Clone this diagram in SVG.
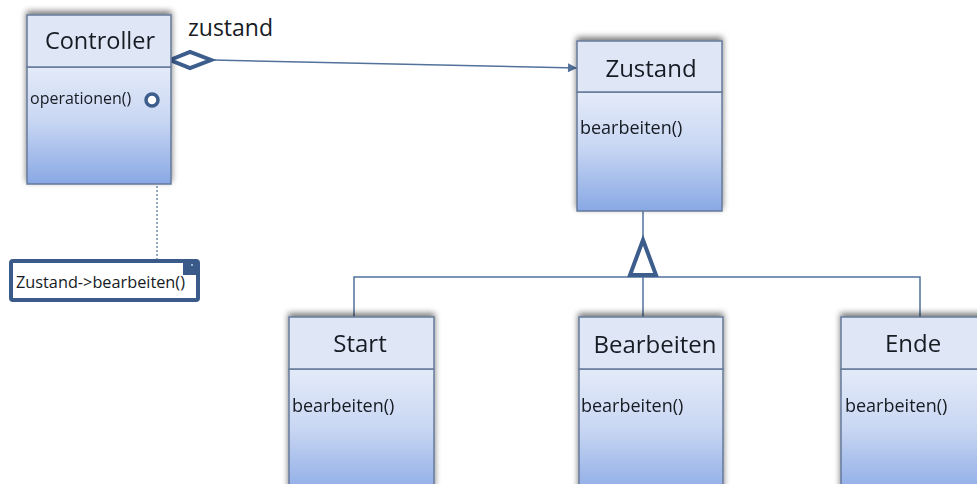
<svg xmlns="http://www.w3.org/2000/svg" width="977" height="484" viewBox="0 0 977 484">
  <style>
    .hdr { fill: #dfe7f7; stroke: #65799a; stroke-width: 1.5; }
    .body { fill: url(#bodyGrad); stroke: #65799a; stroke-width: 1.5; }
    .title { font-family: "Open Sans", "Liberation Sans", sans-serif; font-size: 24px; fill: #161b24; text-anchor: middle; }
    .op { font-family: "Open Sans", "Liberation Sans", sans-serif; font-size: 18px; fill: #161b24; }
    .conn { fill: none; stroke: #52719b; stroke-width: 1.5; }
    .thick { fill: #ffffff; stroke: #3d5d8c; stroke-width: 4; stroke-linejoin: miter; }
  </style>
  <defs>
    <linearGradient id="bodyGrad" x1="0" y1="0" x2="0" y2="1">
      <stop offset="0" stop-color="#e4ebf9"/>
      <stop offset="0.45" stop-color="#c9d7f3"/>
      <stop offset="1" stop-color="#88a8e4"/>
    </linearGradient>
    <filter id="shadow" x="-10%" y="-10%" width="120%" height="120%">
      <feGaussianBlur in="SourceAlpha" stdDeviation="3"/>
      <feOffset dx="0" dy="-3" result="b"/>
      <feComponentTransfer><feFuncA type="linear" slope="0.55"/></feComponentTransfer>
      <feMerge><feMergeNode/><feMergeNode in="SourceGraphic"/></feMerge>
    </filter>
    <marker id="arrow" viewBox="0 0 10 10" refX="10" refY="5" markerWidth="10" markerHeight="9" markerUnits="userSpaceOnUse" orient="auto">
      <path d="M0,0 L10,5 L0,10 Z" fill="#52719b"/>
    </marker>
  </defs>

  <rect width="977" height="484" fill="#ffffff"/>

  <!-- connectors -->
  <g id="connectors">
    <!-- association Controller -> Zustand -->
    <line class="conn" x1="213" y1="60" x2="577" y2="68" marker-end="url(#arrow)"/>
    <text x="188" y="36" class="title" style="text-anchor:start;font-size:23px">zustand</text>
    <!-- dotted link to the note -->
    <line x1="157" y1="106" x2="157" y2="261" stroke="#52719b" stroke-width="1.2" stroke-dasharray="2,2"/>
    <!-- generalization tree -->
    <line class="conn" x1="643" y1="211" x2="643" y2="240"/>
    <polyline class="conn" points="354,317 354,277 920,277 920,317"/>
    <line class="conn" x1="643" y1="277" x2="643" y2="317"/>
    <polygon class="thick" points="643,240 656,275 630,275"/>
    <!-- aggregation diamond -->
    <polygon class="thick" points="170,60 190,52 211,60 190,68"/>
  </g>

  <!-- Controller class -->
  <g id="controller" filter="url(#shadow)">
    <rect class="body" x="27" y="67" width="144" height="117"/>
    <rect class="hdr" x="27" y="15" width="144" height="52"/>
    <text class="title" x="100" y="49" style="font-size:23.5px">Controller</text>
    <text class="op" x="30" y="104" style="font-size:16px">operationen()</text>
  </g>
  <circle cx="152" cy="100" r="6" fill="#ffffff" stroke="#3d5d8c" stroke-width="3.5"/>

  <!-- note -->
  <g id="note">
    <rect x="11" y="261" width="187" height="39" rx="2" fill="#ffffff" stroke="#3a5a8a" stroke-width="4"/>
    <rect x="183" y="262" width="13" height="13" fill="#3a5a8a"/>
    <circle cx="192" cy="265" r="1" fill="#c8d4ea"/>
    <text class="op" x="16" y="288" style="font-size:16.3px">Zustand-&gt;bearbeiten()</text>
  </g>

  <!-- Zustand class -->
  <g id="zustand" filter="url(#shadow)">
    <rect class="body" x="577" y="92" width="145" height="119"/>
    <rect class="hdr" x="577" y="41" width="145" height="51"/>
    <text class="title" x="651" y="77">Zustand</text>
    <text class="op" x="580" y="134">bearbeiten()</text>
  </g>

  <!-- Start class -->
  <g id="start" filter="url(#shadow)">
    <rect class="body" x="289" y="369" width="145" height="130"/>
    <rect class="hdr" x="289" y="317" width="145" height="52"/>
    <text class="title" x="360" y="352">Start</text>
    <text class="op" x="292" y="412">bearbeiten()</text>
  </g>

  <!-- Bearbeiten class -->
  <g id="bearbeiten" filter="url(#shadow)">
    <rect class="body" x="579" y="369" width="144" height="130"/>
    <rect class="hdr" x="579" y="317" width="144" height="52"/>
    <text class="title" x="655" y="353">Bearbeiten</text>
    <text class="op" x="581" y="412">bearbeiten()</text>
  </g>

  <!-- Ende class -->
  <g id="ende" filter="url(#shadow)">
    <rect class="body" x="841" y="369" width="150" height="130"/>
    <rect class="hdr" x="841" y="317" width="150" height="52"/>
    <text class="title" x="913" y="352">Ende</text>
    <text class="op" x="845" y="412">bearbeiten()</text>
  </g>
</svg>
